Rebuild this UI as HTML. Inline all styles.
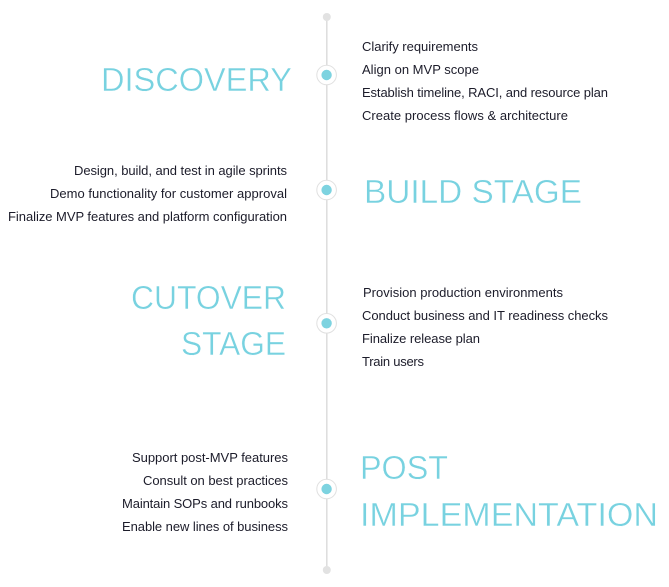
<!DOCTYPE html>
<html>
<head>
<meta charset="utf-8">
<style>
  html,body{margin:0;padding:0;background:#fff;}
  body{width:669px;height:587px;overflow:hidden;}
  svg{display:block;}
  .h{font-family:"Liberation Sans",sans-serif;font-size:33.5px;fill:#78d2e0;stroke:#fff;stroke-width:0.4px;}
  .t{font-family:"Liberation Sans",sans-serif;font-size:13px;fill:#1c1c2a;}
</style>
</head>
<body>
<svg width="669" height="587" viewBox="0 0 669 587" xmlns="http://www.w3.org/2000/svg">
  <!-- timeline line -->
  <line x1="326.8" y1="17" x2="326.8" y2="570" stroke="#dcdcdc" stroke-width="1.5"/>
  <circle cx="326.8" cy="17" r="4" fill="#e2e2e2"/>
  <circle cx="326.8" cy="570" r="4" fill="#e2e2e2"/>

  <!-- nodes -->
  <g>
    <circle cx="326.6" cy="75" r="9.8" fill="#fff" stroke="#e0e0e0" stroke-width="1"/>
    <circle cx="326.6" cy="75" r="5.2" fill="#7dd3e0"/>
    <circle cx="326.6" cy="190" r="9.8" fill="#fff" stroke="#e0e0e0" stroke-width="1"/>
    <circle cx="326.6" cy="190" r="5.2" fill="#7dd3e0"/>
    <circle cx="326.6" cy="323.3" r="9.8" fill="#fff" stroke="#e0e0e0" stroke-width="1"/>
    <circle cx="326.6" cy="323.3" r="5.2" fill="#7dd3e0"/>
    <circle cx="326.6" cy="489" r="9.8" fill="#fff" stroke="#e0e0e0" stroke-width="1"/>
    <circle cx="326.6" cy="489" r="5.2" fill="#7dd3e0"/>
  </g>

  <!-- headings -->
  <text class="h" x="101" y="91" textLength="191" lengthAdjust="spacingAndGlyphs">DISCOVERY</text>
  <text class="h" x="364" y="203" textLength="218" lengthAdjust="spacingAndGlyphs">BUILD STAGE</text>
  <text class="h" x="131" y="309" textLength="155" lengthAdjust="spacingAndGlyphs">CUTOVER</text>
  <text class="h" x="181" y="355" textLength="105" lengthAdjust="spacingAndGlyphs">STAGE</text>
  <text class="h" x="360" y="479" textLength="88" lengthAdjust="spacingAndGlyphs">POST</text>
  <text class="h" x="360" y="526" textLength="298" lengthAdjust="spacingAndGlyphs">IMPLEMENTATION</text>

  <!-- discovery items -->
  <text class="t" x="362" y="51" textLength="116">Clarify requirements</text>
  <text class="t" x="362" y="74" textLength="117">Align on MVP scope</text>
  <text class="t" x="362" y="97" textLength="246">Establish timeline, RACI, and resource plan</text>
  <text class="t" x="362" y="120" textLength="206">Create process flows &amp; architecture</text>

  <!-- build items -->
  <text class="t" x="74" y="175" textLength="213">Design, build, and test in agile sprints</text>
  <text class="t" x="50" y="198" textLength="237">Demo functionality for customer approval</text>
  <text class="t" x="8" y="221" textLength="279">Finalize MVP features and platform configuration</text>

  <!-- cutover items -->
  <text class="t" x="363" y="297" textLength="200">Provision production environments</text>
  <text class="t" x="362" y="320" textLength="246">Conduct business and IT readiness checks</text>
  <text class="t" x="362" y="343" textLength="118">Finalize release plan</text>
  <text class="t" x="362" y="366" textLength="62">Train users</text>

  <!-- post items -->
  <text class="t" x="132" y="462" textLength="156">Support post-MVP features</text>
  <text class="t" x="143" y="485" textLength="145">Consult on best practices</text>
  <text class="t" x="122" y="508" textLength="166">Maintain SOPs and runbooks</text>
  <text class="t" x="122" y="531" textLength="166">Enable new lines of business</text>
</svg>
</body>
</html>
